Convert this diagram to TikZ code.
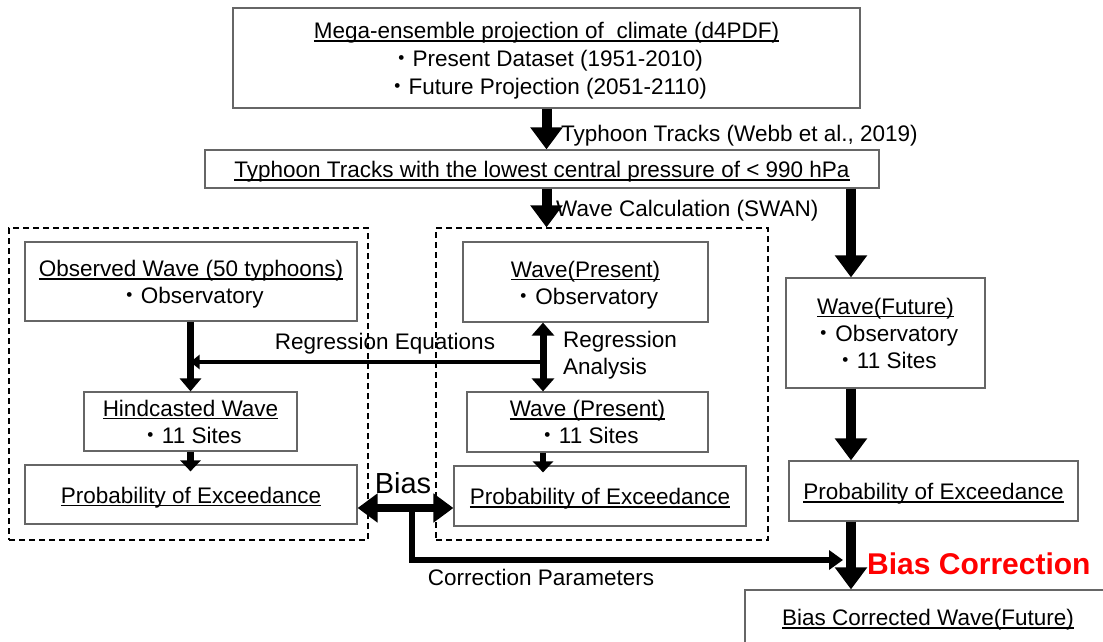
\documentclass[tikz,border=0pt]{standalone}
\usepackage{fontspec}
\setmainfont{Liberation Sans}
\newfontfamily\cjkfont{Noto Sans CJK JP}
\usetikzlibrary{arrows.meta,calc}

% underline at a fixed depth, running through descenders
\newcommand\ulin[1]{\setbox0\hbox{#1}\rlap{\rule[-0.14em]{\wd0}{0.065em}}\box0}
\newcommand\bulletmark{{\cjkfont ・}}
\newcommand\topstrut{\rule{0pt}{22pt}}
\newcommand\fs{\fontsize{22.5}{27}\selectfont}

\begin{document}
\begin{tikzpicture}[x=1pt,y=-1pt,
  box/.style={draw=black!60, line width=1.2pt, inner sep=0pt, align=center, font=\fs},
  grp/.style={draw, line width=1.2pt, dash pattern=on 6pt off 4pt, inner sep=0pt},
  lbl/.style={inner sep=0pt, font=\fs},
  bigarrow/.style={line width=10pt, -{Triangle[length=22pt,width=31pt]}},
  midarrow/.style={line width=7pt, -{Triangle[length=13pt,width=21pt]}},
  dblarrow/.style={line width=7pt, {Triangle[length=13pt,width=22pt]}-{Triangle[length=13pt,width=22pt]}},
  smallarrow/.style={line width=6.5pt, -{Triangle[length=11pt,width=20pt]}, shorten >=-7pt},
  eqarrow/.style={line width=4.5pt, -{Triangle[length=9pt,width=14pt]}},
  biasarrow/.style={line width=8pt, {Triangle[length=20pt,width=28pt]}-{Triangle[length=20pt,width=28pt]}},
  corrarrow/.style={line width=5.5pt, -{Triangle[length=14pt,width=19pt]}}]

\useasboundingbox (0,0) rectangle (1103,641);

% boxes
\node[box, font=\fontsize{22.5}{28}\selectfont, minimum width=627pt, minimum height=100pt] (proj) at (546.5,58)
  {\topstrut\ulin{Mega-ensemble projection of\ \ climate (d4PDF)}\\
   \bulletmark Present Dataset (1951-2010)\\
   \bulletmark Future Projection (2051-2110)};
\node[box, minimum width=674pt, minimum height=38pt] (tracks) at (542,169)
  {\topstrut\ulin{Typhoon Tracks with the lowest central pressure of < 990 hPa}};

\node[grp, minimum width=359pt, minimum height=312pt] (lgrp) at (188.5,384) {};
\node[grp, minimum width=332pt, minimum height=312pt] (mgrp) at (602,384) {};

\node[box, minimum width=332pt, minimum height=79pt] (obs) at (191,281.5)
  {\topstrut\ulin{Observed Wave (50 typhoons)}\\\bulletmark Observatory};
\node[box, minimum width=213pt, minimum height=59pt] (hind) at (190.5,421.5)
  {\ulin{Hindcasted Wave}\\\bulletmark 11 Sites};
\node[box, minimum width=332pt, minimum height=59pt] (lprob) at (191,494.5)
  {\topstrut\ulin{Probability of Exceedance}};

\node[box, minimum width=245pt, minimum height=80pt] (pres) at (585.5,282)
  {\topstrut\ulin{Wave(Present)}\\\bulletmark Observatory};
\node[box, minimum width=241pt, minimum height=60pt] (pres2) at (587.5,422)
  {\ulin{Wave (Present)}\\\bulletmark 11 Sites};
\node[box, minimum width=292pt, minimum height=60pt] (mprob) at (600,496)
  {\topstrut\ulin{Probability of Exceedance}};

\node[box, minimum width=199pt, minimum height=110pt] (fut) at (885.5,333)
  {\ulin{Wave(Future)}\\\bulletmark Observatory\\\bulletmark 11 Sites};
\node[box, minimum width=289pt, minimum height=60pt] (rprob) at (933.5,491)
  {\topstrut\ulin{Probability of Exceedance}};
\node[box, minimum width=366pt, minimum height=54pt] (corr) at (928,617)
  {\topstrut\ulin{Bias Corrected Wave(Future)}};

% guide coordinates for the arrow columns
\coordinate (cR) at (851,0);
\coordinate (cM) at (543,0);
\coordinate (req) at (543,362);
\coordinate (bs) at (412,508);
\coordinate (cp) at (412,560);

% connectors
\draw[bigarrow] (proj.south) -- (proj.south |- tracks.north);
\draw[bigarrow] (proj.south |- tracks.south) -- (proj.south |- mgrp.north);
\draw[bigarrow] (cR |- tracks.south) -- (cR |- fut.north);
\draw[bigarrow] (cR |- fut.south) -- (cR |- rprob.north);
\draw[bigarrow] (cR |- rprob.south) -- (cR |- corr.north);

\draw[midarrow] (hind.north |- obs.south) -- (hind.north);
\draw[dblarrow] (cM |- pres.south) -- (cM |- pres2.north);
\draw[eqarrow] (req) -- (req -| hind.north);
\draw[smallarrow] (hind.south) -- (hind.south |- lprob.north);
\draw[smallarrow] (cM |- pres2.south) -- (cM |- mprob.north);

\draw[biasarrow] (lprob.east |- bs) -- (mprob.west |- bs);
\draw[corrarrow, shorten >=8pt] (bs) -- (cp) -- (cp -| cR);

% labels
\node[lbl, anchor=base west] (ttl) at (561,141) {Typhoon Tracks (Webb et al., 2019)};
\node[lbl, anchor=base west] (wcl) at (556,216) {Wave Calculation (SWAN)};
\node[lbl, anchor=base] (rel) at (385,349) {Regression Equations};
\node[lbl, anchor=west, align=left] (ral) at (563,355) {Regression\\Analysis};
\node[inner sep=0pt, anchor=base, font=\fontsize{29}{29}\selectfont] (bl) at (403,493) {Bias};
\node[lbl, anchor=base] (cpl) at (541,585) {Correction Parameters};
\node[inner sep=0pt, anchor=base west, text=red, font=\fontsize{30}{30}\selectfont\bfseries] (bcl) at (867,574) {Bias Correction};
\end{tikzpicture}
\end{document}
